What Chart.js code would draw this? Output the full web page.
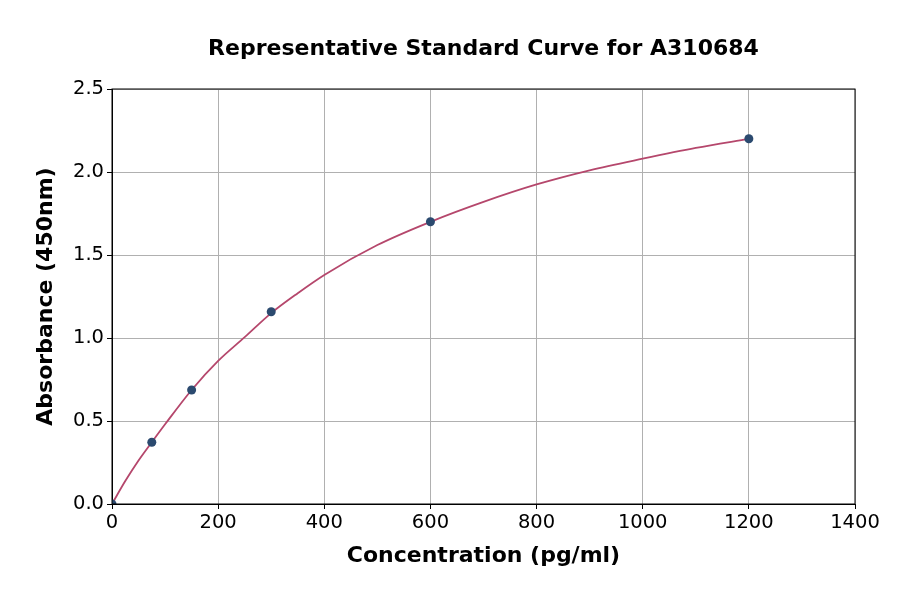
<!DOCTYPE html>
<html>
<head>
<meta charset="utf-8">
<script src="https://cdn.jsdelivr.net/npm/chart.js@4.4.0/dist/chart.umd.min.js"></script>
<style>
  html, body { margin: 0; padding: 0; background: #fff; }
  #wrap { width: 900px; height: 594px; }
</style>
</head>
<body>
<div id="wrap"><canvas id="curve" width="900" height="594"></canvas></div>
<script>
// standards
const stdConc = [0, 75, 150, 300, 600, 1200];
const stdOD = [0, 0.372, 0.687, 1.158, 1.70, 2.20];

// fitted curve, read at several concentrations
const fitConc = [0, 25, 50, 75, 100, 150, 200, 250, 300, 350, 400, 500, 600, 700, 800, 900, 1000, 1100, 1200];
const fitOD = [0, 0.138, 0.262, 0.372, 0.48, 0.687, 0.862, 1.005, 1.15, 1.27, 1.38, 1.56, 1.70, 1.82, 1.925, 2.01, 2.08, 2.145, 2.20];

const xTicks = [0, 200, 400, 600, 800, 1000, 1200, 1400];
const yTicks = [0, 0.5, 1.0, 1.5, 2.0, 2.5];

const chartTitle = 'Representative Standard Curve for A310684';
const FONT = "'DejaVu Sans', sans-serif";

function toPoints(xs, ys) {
  var pts = [];
  for (var i = 0; i < xs.length; i++) {
    pts.push({ x: xs[i], y: ys[i] });
  }
  return pts;
}

// matplotlib style box round the plot area, title centred over it
const frame = {
  id: 'frame',
  afterDatasetsDraw(chart) {
    const a = chart.chartArea;
    const ctx = chart.ctx;
    ctx.save();
    ctx.strokeStyle = '#000';
    ctx.lineWidth = 1;
    ctx.strokeRect(a.left, a.top, a.right - a.left, a.bottom - a.top);
    ctx.fillStyle = '#000';
    ctx.font = 'bold 22px ' + FONT;
    ctx.textAlign = 'center';
    ctx.textBaseline = 'middle';
    ctx.fillText(chartTitle, (a.left + a.right) / 2, 49);
    ctx.restore();
  }
};

var ctx = document.getElementById('curve').getContext('2d');
var chart = new Chart(ctx, {
  type: 'scatter',
  data: {
    datasets: [
      {
        label: 'Standards',
        data: toPoints(stdConc, stdOD),
        pointRadius: 4.5,
        pointBackgroundColor: '#2b4a6f',
        pointBorderColor: '#2b4a6f',
        pointBorderWidth: 0,
        showLine: false,
        clip: 0,
        order: 0
      },
      {
        label: 'Fit',
        data: toPoints(fitConc, fitOD),
        showLine: true,
        borderColor: '#b5476c',
        borderWidth: 1.8,
        pointRadius: 0,
        cubicInterpolationMode: 'monotone',
        fill: false,
        order: 1
      }
    ]
  },
  options: {
    responsive: false,
    animation: false,
    devicePixelRatio: 1,
    layout: { padding: { left: 0, right: 45, top: 89, bottom: 0 } },
    plugins: {
      legend: { display: false },
      tooltip: { enabled: false },
      title: { display: false }
    },
    scales: {
      x: {
        type: 'linear',
        min: 0,
        max: 1400,
        afterBuildTicks: function(scale) {
          scale.ticks = xTicks.map(v => ({ value: v }));
        },
        afterFit: function(scale) { scale.height = 90; },
        grid: { color: '#b0b0b0', lineWidth: 1, tickLength: 5, tickColor: '#000' },
        border: { color: '#000', width: 1 },
        ticks: {
          color: '#000',
          font: { family: FONT, size: 19.5 },
          padding: 2,
          maxRotation: 0,
          callback: v => String(v)
        },
        title: {
          display: true,
          text: 'Concentration (pg/ml)',
          color: '#000',
          font: { family: FONT, size: 22, weight: 'bold' },
          padding: { top: 0, bottom: 25 }
        }
      },
      y: {
        type: 'linear',
        min: 0,
        max: 2.5,
        afterBuildTicks: function(scale) {
          scale.ticks = yTicks.map(v => ({ value: v }));
        },
        afterFit: function(scale) { scale.width = 112; },
        grid: { color: '#b0b0b0', lineWidth: 1, tickLength: 5, tickColor: '#000' },
        border: { color: '#000', width: 1 },
        ticks: {
          color: '#000',
          font: { family: FONT, size: 19.5 },
          padding: 3,
          callback: v => v.toFixed(1)
        },
        title: {
          display: true,
          text: 'Absorbance (450nm)',
          color: '#000',
          font: { family: FONT, size: 22, weight: 'bold' },
          padding: { top: 33, bottom: 0 }
        }
      }
    }
  },
  plugins: [frame]
});
</script>
</body>
</html>
